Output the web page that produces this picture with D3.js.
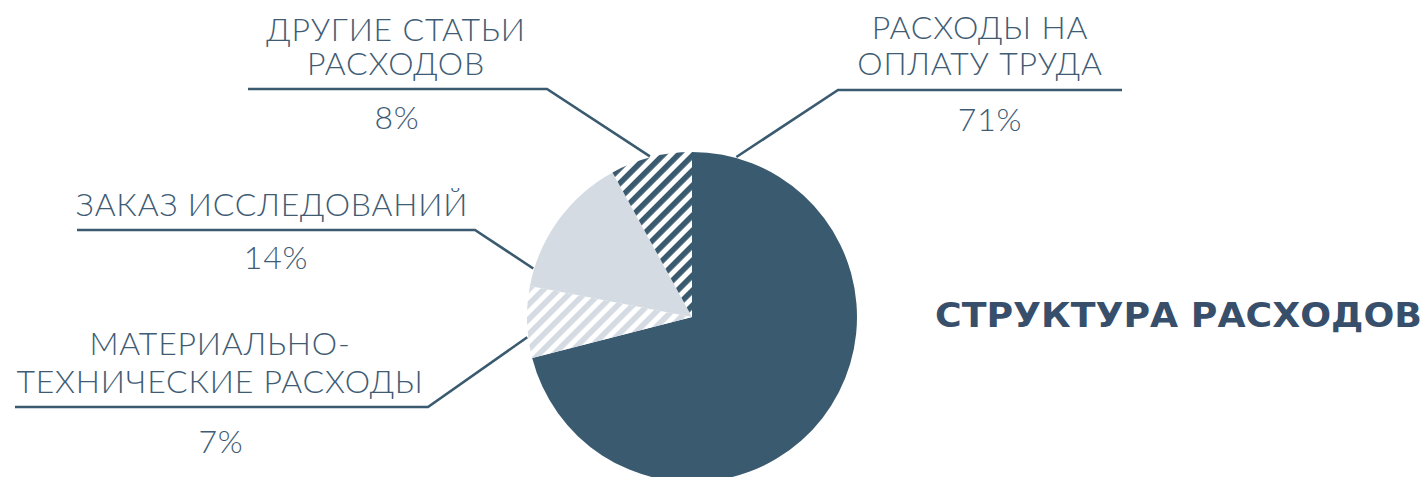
<!DOCTYPE html>
<html>
<head>
<meta charset="utf-8">
<script src="https://cdn.jsdelivr.net/npm/d3@7"></script>
<style>
  body { margin: 0; background: #fff; }
  svg { display: block; }
  .lbl { font-family: Lato, "Noto Sans", sans-serif; font-weight: 300; fill: #3f5c74; font-size: 32px; letter-spacing: 0.8px; }
  .title { font-family: "DejaVu Sans", sans-serif; font-weight: 700; fill: #374f6b; font-size: 33px; }
</style>
</head>
<body>
<div id="chart"></div>
<script>
// data
var categories = ["РАСХОДЫ НА ОПЛАТУ ТРУДА", "МАТЕРИАЛЬНО-ТЕХНИЧЕСКИЕ РАСХОДЫ", "ЗАКАЗ ИССЛЕДОВАНИЙ", "ДРУГИЕ СТАТЬИ РАСХОДОВ"];
var values = [71, 7, 14, 8];
var labelLines = [["РАСХОДЫ НА", "ОПЛАТУ ТРУДА"], ["МАТЕРИАЛЬНО-", "ТЕХНИЧЕСКИЕ РАСХОДЫ"], ["ЗАКАЗ ИССЛЕДОВАНИЙ"], ["ДРУГИЕ СТАТЬИ", "РАСХОДОВ"]];
var chartTitle = "СТРУКТУРА РАСХОДОВ";

var width = 1428, height = 477;
var cx = 692, cy = 317, radius = 165;

var dark = "#3a5a70", light = "#d5dbe2";

// label layout: angle where leader leaves the pie, elbow, end of shelf, text centre/baselines
var layout = [
  {a: 15.5,  ex: 838, ey: 90,  end: 1122, tx: 980, ty: [39, 75],   px: 990, py: 131},
  {a: 263,   ex: 428, ey: 407, end: 15,   tx: 220, ty: [355, 393], px: 221, py: 453},
  {a: 287,   ex: 475, ey: 230, end: 77,   tx: 272, ty: [216],      px: 276, py: 269},
  {a: 345.3, ex: 547, ey: 89,  end: 248,  tx: 396, ty: [41, 75],   px: 397, py: 129}
];

var svg = d3.select("#chart").append("svg")
    .attr("width", width)
    .attr("height", height);

var defs = svg.append("defs");
function hatch(id, col){
    var p = defs.append("pattern")
        .attr("id", id)
        .attr("patternUnits", "userSpaceOnUse")
        .attr("width", 10.6)
        .attr("height", 10.6)
        .attr("patternTransform", "rotate(45)");
    p.append("rect").attr("width", 10.6).attr("height", 10.6).attr("fill", "#fff");
    p.append("rect").attr("width", 5.6).attr("height", 10.6).attr("fill", col);
}
hatch("hatchDark", dark);
hatch("hatchLight", light);

var fills = [dark, "url(#hatchLight)", light, "url(#hatchDark)"];

var pie = d3.pie().sort(null).value(function(d){ return d; });
var arc = d3.arc().innerRadius(0).outerRadius(radius);

var g = svg.append("g").attr("transform", "translate(" + cx + "," + cy + ")");

g.selectAll("path")
    .data(pie(values))
    .enter().append("path")
    .attr("d", arc)
    .attr("fill", function(d, i){ return fills[i]; });

// leaders + labels
var rad = Math.PI / 180;
layout.forEach(function(l, i){
    var sx = cx + Math.sin(l.a * rad) * (radius + 1),
        sy = cy - Math.cos(l.a * rad) * (radius + 1);
    svg.append("polyline")
        .attr("points", [[sx, sy], [l.ex, l.ey], [l.end, l.ey]].map(function(p){ return p.join(","); }).join(" "))
        .attr("fill", "none")
        .attr("stroke", dark)
        .attr("stroke-width", 2.6);

    var t = svg.append("text")
        .attr("class", "lbl")
        .attr("text-anchor", "middle");
    labelLines[i].forEach(function(s, j){
        t.append("tspan")
            .attr("x", l.tx)
            .attr("y", l.ty[j])
            .text(s);
    });

    svg.append("text")
        .attr("class", "lbl")
        .attr("x", l.px)
        .attr("y", l.py)
        .attr("text-anchor", "middle")
        .text(values[i] + "%");
});

svg.append("text")
    .attr("class", "title")
    .attr("x", 935)
    .attr("y", 327)
    .attr("textLength", 487)
    .attr("lengthAdjust", "spacingAndGlyphs")
    .text(chartTitle);
</script>
</body>
</html>
